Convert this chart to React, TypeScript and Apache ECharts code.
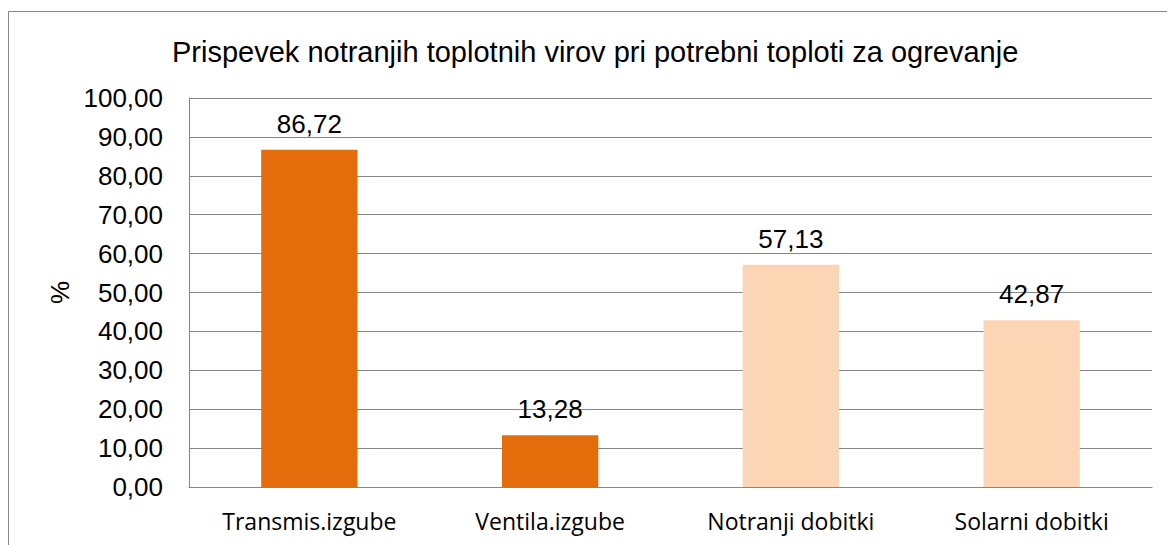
import React, { useEffect, useRef } from "react";
import * as echarts from "echarts";

const categories = ["Transmis.izgube", "Ventila.izgube", "Notranji dobitki", "Solarni dobitki"];
const values = [86.72, 13.28, 57.13, 42.87];
const barColors = ["#E46C0A", "#E46C0A", "#FCD5B5", "#FCD5B5"];
const titleText = "Prispevek notranjih toplotnih virov pri potrebni toploti za ogrevanje";
const yAxisName = "%";

const fmt = (v: number) => v.toFixed(2).replace(".", ",");

export default function App() {
  const ref = useRef<HTMLDivElement>(null);
  useEffect(() => {
    if (!ref.current) return;
    const chart = echarts.init(ref.current, null, { renderer: "svg" });
    chart.setOption({
      animation: false,
      backgroundColor: "#ffffff",
      title: {
        text: titleText,
        left: 167,
        top: 32,
        textStyle: {
          fontFamily: "Liberation Sans, Arial, sans-serif",
          fontSize: 29,
          fontWeight: "normal",
          color: "#000000",
        },
      },
      graphic: [
        {
          type: "rect",
          shape: { x: 0, y: 0, width: 1300, height: 700 },
          x: 8.5,
          y: 11.5,
          style: { fill: "none", stroke: "#868686", lineWidth: 1 },
          silent: true,
        },
      ],
      grid: { left: 189, right: 15, top: 98, bottom: 58 },
      xAxis: {
        type: "category",
        data: categories,
        axisLine: { show: true, lineStyle: { color: "#868686", width: 1 } },
        axisTick: { show: false },
        axisLabel: {
          margin: 22,
          fontFamily: "Open Sans, sans-serif",
          fontSize: 23,
          color: "#000000",
        },
      },
      yAxis: {
        type: "value",
        min: 0,
        max: 100,
        interval: 10,
        name: yAxisName,
        nameLocation: "middle",
        nameRotate: 90,
        nameGap: 116,
        nameTextStyle: {
          fontFamily: "Liberation Sans, Arial, sans-serif",
          fontSize: 26,
          color: "#000000",
        },
        axisLine: { show: true, lineStyle: { color: "#868686", width: 1 } },
        axisTick: { show: false },
        splitLine: { show: true, lineStyle: { color: "#868686", width: 1 } },
        axisLabel: {
          margin: 26,
          formatter: (v: number) => fmt(v),
          fontFamily: "Liberation Sans, Arial, sans-serif",
          fontSize: 26,
          color: "#000000",
        },
      },
      series: [
        {
          type: "bar",
          barWidth: "40%",
          data: values.map((v, i) => ({ value: v, itemStyle: { color: barColors[i] } })),
          label: {
            show: true,
            position: "top",
            distance: 13,
            formatter: (p: any) => fmt(p.value),
            fontFamily: "Liberation Sans, Arial, sans-serif",
            fontSize: 26,
            color: "#000000",
          },
        },
      ],
    });
    return () => chart.dispose();
  }, []);
  return <div ref={ref} style={{ width: 1167, height: 545, position: "absolute", left: 0, top: 0 }} />;
}
